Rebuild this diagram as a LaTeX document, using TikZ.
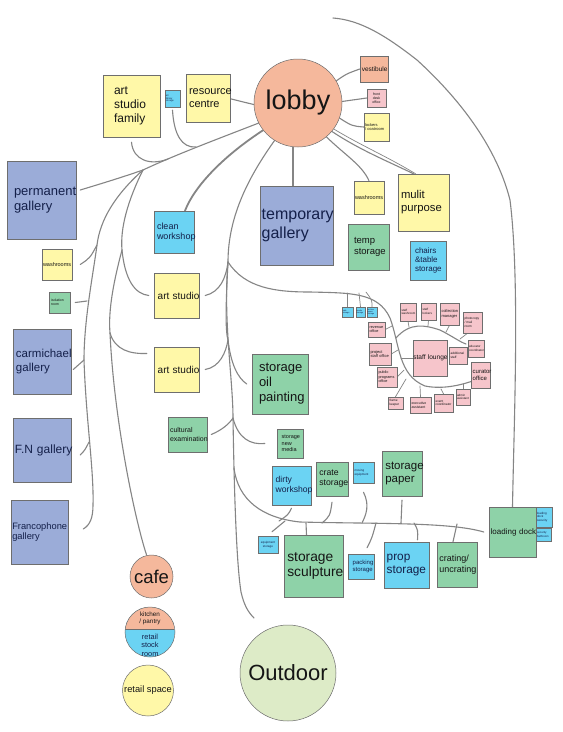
\documentclass[tikz,border=0pt]{standalone}
\usepackage{fontspec}
\setmainfont{Liberation Sans}
\usetikzlibrary{calc}
\definecolor{csalmon}{HTML}{F5B89C}
\definecolor{cyel}{HTML}{FFF8A8}
\definecolor{cblue}{HTML}{9BACD8}
\definecolor{ccyan}{HTML}{6BD3F3}
\definecolor{cgreen}{HTML}{8ED2A8}
\definecolor{cpink}{HTML}{F6C5CB}
\definecolor{cout}{HTML}{DDEBC7}
\definecolor{bd}{HTML}{6E6E6E}
\definecolor{lg}{HTML}{858585}
\definecolor{txt}{HTML}{151515}
\definecolor{txtb}{HTML}{14204A}
\pgfdeclarelayer{bg}
\pgfsetlayers{bg,main}
\hyphenpenalty=10000
\exhyphenpenalty=10000
\tikzset{
  bx/.code args={#1/#2/#3}{\pgfmathsetmacro\bxw{#1-2*#3}\edef\bxtmp{\noexpand\pgfkeysalso{minimum width=#1pt,minimum height=#2pt,text width=\bxw pt,inner xsep=#3pt}}\bxtmp},
  fs/.code={\pgfmathsetmacro\fsb{#1*1.15}\edef\fstmp{\noexpand\pgfkeysalso{font=\noexpand\fontsize{#1}{\fsb}\noexpand\selectfont}}\fstmp},
  rbox/.style={draw=bd, line width=0.5pt, rectangle, inner ysep=0pt, align=left, text=txt},
  fyel/.style={rbox, fill=cyel},
  fblue/.style={rbox, fill=cblue, text=txtb},
  fcyan/.style={rbox, fill=ccyan, text=txtb},
  fgreen/.style={rbox, fill=cgreen},
  fpink/.style={rbox, fill=cpink},
  fsalm/.style={rbox, fill=csalmon},
  circ/.style={circle, draw=bd, line width=0.5pt, inner sep=0pt, align=center, text=txt},
  conn/.style={draw=lg, line width=1.1pt, line cap=round},
  thickc/.style={line width=1.8pt},
  thinc/.style={line width=0.7pt},
}
\begin{document}
\begin{tikzpicture}[x=1pt,y=-1pt]
\useasboundingbox (0,0) rectangle (563,732);

% ---- circles
\node[circ, fill=csalmon, minimum size=88pt, fs=27] (lobby) at (298,103) {lobby};
\node[circ, fill=csalmon, minimum size=43pt, fs=18.5] (cafe) at (151.5,576.5) {cafe};
\node[circ, minimum size=50pt, path picture={
  \fill[ccyan] (path picture bounding box.south west) rectangle (path picture bounding box.north east);
  \fill[csalmon] (path picture bounding box.north west) rectangle ([yshift=3pt]path picture bounding box.east);
  \draw[bd, line width=0.5pt] ([yshift=3pt]path picture bounding box.west) -- ([yshift=3pt]path picture bounding box.east);
}] (kr) at (150,632) {};
\node[fs=6.3, align=center, inner sep=0pt, text=txt] (krt1) at (150,618) {kitchen\\/ pantry};
\node[fs=7.4, align=center, inner sep=0pt, text=txtb] (krt2) at (150,645) {retail\\stock\\room};
\node[circ, fill=cyel, minimum size=51pt, fs=9.3] (rs) at (148,690.5) {retail space};
\node[circ, fill=cout, minimum size=96pt, fs=22] (out) at (288,673) {Outdoor};

% ---- top
\node[fyel, bx=57/62/11, fs=12] (asf) at (131.5,106) {art\\studio\\family};
\node[fcyan, bx=15/17/0.8, fs=2.4] (artlib) at (172.5,98.5) {art\\library\\storage};
\node[fyel, bx=44/48/3, fs=11] (rc) at (208,98) {resource\\centre};
\node[fsalm, bx=28/26/1.8, fs=6.5] (vest) at (374,69) {vestibule};
\node[fpink, bx=19/18/1.5, fs=3.5, align=center] (fd) at (376.5,98) {front\\desk\\office};
\node[fyel, bx=25/28/1, fs=4] (lock) at (376.5,127) {lockers\\/~coatroom};

% ---- left column
\node[fblue, bx=69/78/7, fs=13] (perm) at (41.5,200) {permanent\\gallery};
\node[fyel, bx=30/31/1, fs=5.5] (wrL) at (57,264.5) {washrooms};
\node[fgreen, bx=21/21/2, fs=3.5] (iso) at (59.5,302.5) {isolation\\room};
\node[fblue, bx=58/65/3, fs=11.5] (carm) at (42,361.5) {carmichael\\gallery};
\node[fblue, bx=58/64/2, fs=12] (fn) at (42,450) {F.N~gallery};
\node[fblue, bx=57/64/1.3, fs=9.3] (franc) at (39.5,532) {Francophone\\gallery};

% ---- middle column
\node[fcyan, bx=40/42/3, fs=9] (cw) at (174,232) {clean\\workshop};
\node[fyel, bx=45/45/3.7, fs=10] (as1) at (176.5,295.5) {art~studio};
\node[fyel, bx=45/45/3.7, fs=10] (as2) at (176.5,369.5) {art~studio};
\node[fgreen, bx=39/35/2, fs=7] (cult) at (187.5,434.5) {cultural\\examination};

% ---- centre
\node[fblue, bx=73/79/1.7, fs=16] (tg) at (296.5,225.5) {temporary\\gallery};
\node[fyel, bx=30/33/1, fs=5.5] (wrR) at (369,197.5) {washrooms};
\node[fyel, bx=51/57/3, fs=11.3] (mp) at (423.5,202.5) {mulit\\purpose};
\node[fgreen, bx=41/46/6, fs=9.5] (ts) at (368.5,247) {temp\\storage};
\node[fcyan, bx=36/39/5, fs=8] (cts) at (428,260.5) {chairs\\\&table\\storage};
\node[fgreen, bx=56/60/7, fs=13] (sop) at (280,384) {storage\\oil\\painting};
\node[fgreen, bx=26/29/4.7, fs=5.5] (snm) at (290,443.5) {storage\\new\\media};

% ---- storage cluster
\node[fcyan, bx=39/39/3.7, fs=8.6] (dw) at (291.5,485.5) {dirty\\workshop};
\node[fgreen, bx=32/34/3.3, fs=8.7] (cs) at (332,479) {crate\\storage};
\node[fcyan, bx=21/21/1.5, fs=3] (me) at (363.5,472.5) {moving\\equipment};
\node[fgreen, bx=40/45/3.3, fs=11.5] (sp) at (402,473.5) {storage\\paper};
\node[fcyan, bx=20/17/1, fs=3, align=center] (es) at (268,544.5) {equipment\\storage};
\node[fgreen, bx=59/62/3.3, fs=13.8] (ss) at (313.5,566) {storage\\sculpture};
\node[fcyan, bx=26/25/4.7, fs=6] (ps) at (361,566.5) {packing\\storage};
\node[fcyan, bx=45/46/2.7, fs=11.8] (prop) at (406.5,565) {prop\\storage};
\node[fgreen, bx=40/45/2.3, fs=9] (cru) at (457,564.5) {crating/\\uncrating};
\node[fcyan, bx=16/20/1, fs=3] (lds) at (544,517) {loading\\dock\\security};
\node[fcyan, bx=15/13/1, fs=2.8] (sb) at (543.5,534.5) {security\\bathroom};
\node[fgreen, bx=47/50/1.7, fs=8] (ld) at (512.5,532) {loading~dock};

% ---- staff
\node[fcyan, bx=11/10/0.8, fs=2] (t1) at (347.5,312) {safe\\storage};
\node[fcyan, bx=9/10/0.6, fs=2] (t2) at (360.5,312) {media\\storage};
\node[fcyan, bx=10/10/0.6, fs=2] (t3) at (372,312) {archive\\paper\\storage};
\node[fpink, bx=17/15/1.5, fs=3.8] (rev) at (376.5,329.5) {revenue\\office};
\node[fpink, bx=16/18/1.5, fs=3] (sw) at (408,312) {staff\\washroom};
\node[fpink, bx=15/17/1.5, fs=3] (sl) at (428.5,311.5) {staff\\lockers};
\node[fpink, bx=19/22/1.5, fs=4] (cm) at (449.5,314) {collection\\manager};
\node[fpink, bx=19/21/1.5, fs=3.2] (pc) at (472.5,322.5) {photocopy\\/~mail\\room};
\node[fpink, bx=22/22/1.5, fs=4] (pso) at (380,354) {project\\staff~office};
\node[fpink, bx=34/36/0.3, fs=6.6] (lounge) at (430,358) {staff~lounge};
\node[fpink, bx=18/17/1.5, fs=3.2] (add) at (458,355.5) {additional\\staff};
\node[fpink, bx=16/17/1, fs=3] (edu) at (476,348.5) {educator\\coordinator};
\node[fpink, bx=19/26/1.7, fs=6] (cur) at (480.5,375) {curator\\office};
\node[fpink, bx=20/20/1.5, fs=3.8] (ppo) at (387,377) {public\\programs\\office};
\node[fpink, bx=15/12/1.5, fs=3.2] (fk) at (395.5,403) {frame\\keeper};
\node[fpink, bx=21/16/1.5, fs=3.5] (ea) at (420.5,405) {executive\\assistant};
\node[fpink, bx=19/18/1.5, fs=3.2] (ec) at (443.5,403) {event\\coordinator};
\node[fpink, bx=14/16/1, fs=3] (aa) at (463,397) {admin\\assistant};

% ---- junction coordinates
\coordinate (jL) at (143,170);
\coordinate (jA) at (168,159);
\coordinate (jB) at (196,147);
\coordinate (jW) at (97,245);
\coordinate (jI) at (87,301);
\coordinate (jC) at (84,360);
\coordinate (jFN) at (89,442);
\coordinate (jF) at (93,505);
\coordinate (jA1) at (122,250);
\coordinate (jA2) at (110,333);
\coordinate (jT1) at (228,262);
\coordinate (jT5) at (228,340);
\coordinate (jT6) at (233,418);
\coordinate (jT4) at (241,592);
\coordinate (jO) at (254,618);
\coordinate (jH) at (234,468);
\coordinate (jH2) at (300,522);
\coordinate (jd) at (279,521);
\coordinate (je) at (285,521);
\coordinate (jss) at (306,523);
\coordinate (jcs) at (322,523);
\coordinate (jme) at (362,523);
\coordinate (jps) at (376,523);
\coordinate (jsp) at (401,523);
\coordinate (jpr) at (414,523);
\coordinate (jcr) at (457,524);
\coordinate (rstart) at (333,18);
\coordinate (jR1) at (417,60);
\coordinate (jR2) at (510,200);
\coordinate (jS1) at (310,292);
\coordinate (jS2) at (390,318);
\coordinate (jS3) at (425,386);
\coordinate (jS4) at (478,379);
\coordinate (jU0) at (396,338);
\coordinate (jU1) at (440,330);
\coordinate (jU2) at (466,344);
\coordinate (k1) at (347.5,293);
\coordinate (k2) at (359,293);
\coordinate (k3) at (366,292);
\coordinate (ksw) at (409,327);
\coordinate (ksl) at (428,326);
\coordinate (kcm) at (446,332);
\coordinate (kpc) at (460,339);
\coordinate (krev) at (392,326);
\coordinate (kpso) at (398,350);
\coordinate (kppo) at (404,370);
\coordinate (klo) at (401,358);
\coordinate (kfk) at (406,379);
\coordinate (kea) at (420,386);
\coordinate (kec) at (441,389);
\coordinate (kaa) at (463,384);

\begin{pgfonlayer}{bg}
\fill[white] (0,0) rectangle (563,732);
% lobby spokes
\draw[conn] (lobby.182) -- ([xshift=-3pt]rc.east);
\draw[conn] (lobby.30) .. controls (346,74) .. (vest.west);
\draw[conn] (lobby.2) .. controls (355,100) .. (fd.west);
\draw[conn] (lobby.-20) .. controls (352,126) .. (lock.west);
\draw[conn] (lobby.-50) .. controls (345,155) and (362,165) .. (wrR.north);
\draw[conn] (lobby.-40) .. controls (360,150) and (385,160) .. ([xshift=-10pt]mp.north);
\draw[conn,thinc] (lobby.-36) .. controls (362,146) and (388,157) .. ([xshift=-8pt]mp.north);
\draw[conn] ([xshift=-5pt]lobby.south) -- ([xshift=-3.5pt]tg.north);
\draw[conn,thickc] (lobby.218) .. controls (225,155) and (195,185) .. ([xshift=11pt]cw.north);
% long right arc to loading dock
\draw[conn] (rstart) .. controls (360,20) and (385,35) .. (jR1) .. controls (450,90) and (495,140) .. (jR2) .. controls (520,280) and (514,420) .. (ld.north);
% left system
\draw[conn] (lobby.207) .. controls (215,140) and (175,155) .. (jL);
\draw[conn] (jL) .. controls (120,178) and (100,184) .. ([xshift=4pt,yshift=10pt]perm.east);
\draw[conn] ([yshift=-5pt]asf.south) .. controls (133,160) and (150,166) .. (jA);
\draw[conn] ([yshift=-3pt]artlib.south) .. controls (174,135) and (182,148) .. (jB);
\draw[conn] (jL) .. controls (115,195) and (100,220) .. (jW) .. controls (93,275) and (84,320) .. (jC) .. controls (86,420) and (94,470) .. (jF) .. controls (93,518) and (90,525) .. ([xshift=15pt,yshift=3pt]franc.east);
\draw[conn] ([xshift=8pt]wrL.east) .. controls (90,258) .. (jW);
\draw[conn] ([xshift=5pt]iso.east) -- (jI);
\draw[conn] ([xshift=2pt,yshift=-8pt]carm.east) .. controls (78,364) .. (jC);
\draw[conn] ([xshift=9pt,yshift=-5pt]fn.east) .. controls (85,450) .. (jFN);
\draw[conn] (jL) .. controls (128,200) and (120,228) .. (jA1) .. controls (114,280) and (108,310) .. (jA2) .. controls (114,420) and (135,520) .. ([xshift=-5pt]cafe.north);
\draw[conn] (jA1) .. controls (125,280) and (135,294) .. ([xshift=-5pt]as1.west);
\draw[conn] (jA2) .. controls (115,350) and (130,354) .. ([xshift=-7pt,yshift=16pt]as2.west);
% trunk
\draw[conn] (lobby.238) .. controls (250,175) and (228,215) .. (jT1) .. controls (226,300) and (225,330) .. (jT5) .. controls (231,365) and (238,378) .. ([xshift=-5pt]sop.west);
\draw[conn] (jT1) .. controls (223,320) and (233,380) .. (jT6) .. controls (234,480) and (236,560) .. (jT4) .. controls (244,605) and (248,612) .. (jO);
\draw[conn] ([xshift=6pt]as1.east) .. controls (220,292) and (226,278) .. (jT1);
\draw[conn] ([xshift=6pt]as2.east) .. controls (220,367) and (226,352) .. (jT5);
\draw[conn] ([xshift=4pt]cult.east) .. controls (222,430) and (229,424) .. (jT6);
\draw[conn] (jT6) .. controls (238,438) and (250,445) .. ([xshift=-12pt]snm.west);
% storage line
\draw[conn] (jH) .. controls (238,500) and (262,518) .. (jH2) .. controls (380,524) and (450,522) .. ([xshift=-5pt]ld.west);
\draw[conn] ([yshift=-3pt]dw.south) .. controls (288,515) .. (jd);
\draw[conn] ([xshift=4pt,yshift=4pt]es.north) .. controls (278,526) .. (je);
\draw[conn] ([xshift=-7pt]ss.north) -- (jss);
\draw[conn] ([yshift=-6pt]cs.south) .. controls (330,516) .. (jcs);
\draw[conn] ([yshift=-9pt]me.south) .. controls (370,505) and (366,515) .. (jme);
\draw[conn] ([xshift=6pt,yshift=6pt]ps.north) .. controls (372,538) .. (jps);
\draw[conn] ([yshift=-4pt]sp.south) -- (jsp);
\draw[conn] ([xshift=11pt,yshift=2pt]prop.north) .. controls (418,530) .. (jpr);
\draw[conn] ([xshift=-4pt]cru.north) -- (jcr);
% staff
\draw[conn] (jT1) .. controls (245,288) and (275,292) .. (jS1) .. controls (350,293) and (378,292) .. (jS2) .. controls (400,345) and (398,375) .. (jS3) .. controls (445,390) and (465,384) .. (jS4);
\draw[conn] (jU0) .. controls (410,322) and (425,325) .. (jU1) .. controls (452,336) and (460,342) .. (jU2);
\draw[conn,thinc] (t1.north) -- (k1);
\draw[conn,thinc] (t2.north) -- (k2);
\draw[conn,thinc] (t3.north) .. controls (372,300) .. (k3);
\draw[conn,thinc] (sw.south) -- (ksw);
\draw[conn,thinc] (sl.south) -- (ksl);
\draw[conn,thinc] (cm.south) -- (kcm);
\draw[conn,thinc] ([xshift=-5pt]pc.south) -- (kpc);
\draw[conn,thinc] (rev.east) -- (krev);
\draw[conn,thinc] (pso.east) -- (kpso);
\draw[conn,thinc] (ppo.east) -- (kppo);
\draw[conn,thinc] (lounge.west) -- (klo);
\draw[conn,thinc] (fk.north) -- (kfk);
\draw[conn,thinc] (ea.north) -- (kea);
\draw[conn,thinc] (ec.north) -- (kec);
\draw[conn,thinc] (aa.north) -- (kaa);
\end{pgfonlayer}
\end{tikzpicture}
\end{document}
